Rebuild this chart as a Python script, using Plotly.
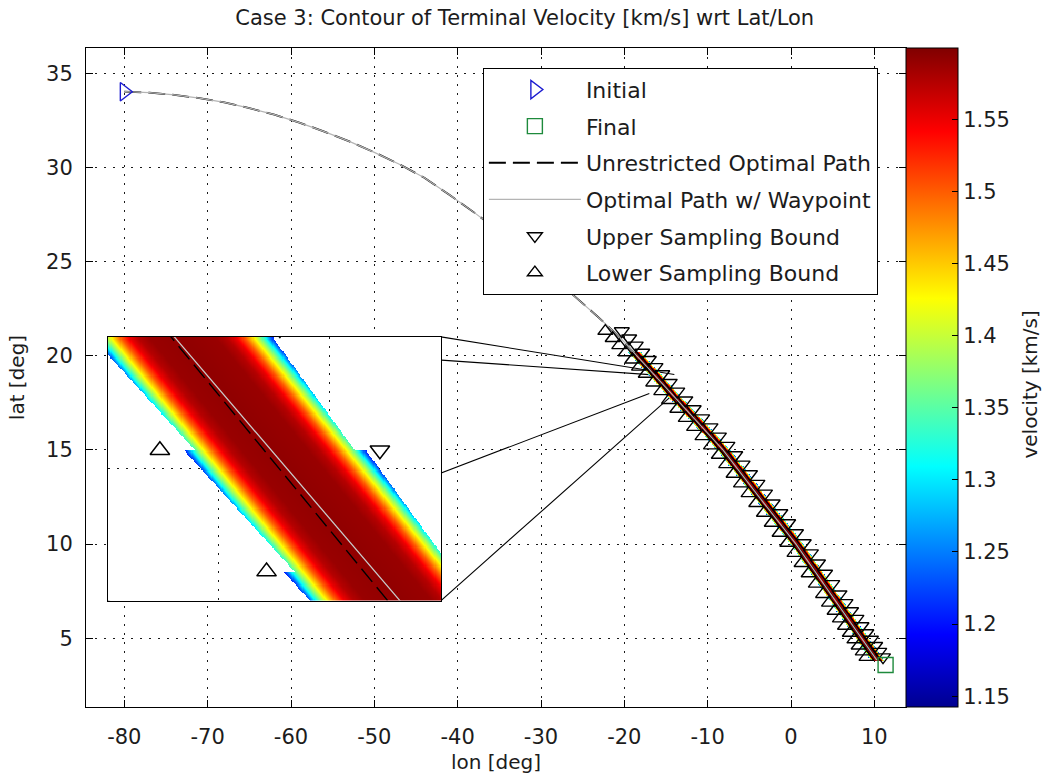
import numpy as np
import plotly.graph_objects as go

# ---------------- trajectories (lon, lat in deg) ----------------
unres_lon = [-80.0, -77.0, -74.0, -71.0, -68.0, -65.0, -62.0, -59.0, -56.0, -53.0,
             -50.0, -47.0, -44.0, -41.0, -38.0, -35.0, -32.0, -29.0, -26.0, -23.0,
             -20.6, -18.5, -16.43, -14.48, -11.3, -8.2, -4.0, 0.6, 5.0, 10.0, 10.3]
unres_lat = [34.02, 33.97, 33.85, 33.68, 33.45, 33.15, 32.80, 32.38, 31.90, 31.38,
             30.80, 30.17, 29.45, 28.55, 27.60, 26.60, 25.50, 24.35, 23.15, 22.00,
             21.00, 19.98, 19.00, 18.00, 16.50, 15.00, 12.60, 10.00, 7.20, 4.00, 3.84]

wp_lon = [-80.0, -77.0, -74.0, -71.0, -68.0, -65.0, -62.0, -59.0, -56.0, -53.0,
          -50.0, -47.0, -44.0, -41.0, -38.0, -35.0, -32.0, -29.0, -26.0, -23.0,
          -20.58, -18.46, -16.40, -14.37, -11.22, -8.17, -4.0, 0.6, 5.0, 10.0, 10.3]
wp_lat = [34.02, 33.97, 33.85, 33.68, 33.45, 33.15, 32.80, 32.38, 31.90, 31.38,
          30.80, 30.17, 29.45, 28.55, 27.60, 26.60, 25.50, 24.35, 23.15, 22.00,
          21.00, 19.98, 19.00, 18.00, 16.50, 15.00, 12.60, 10.00, 7.20, 4.00, 3.84]

initial_lon, initial_lat = [-80.0], [34.02]
final_lon, final_lat = [11.35], [3.58]

# ---------------- sampling rows and bounds ----------------
row_lat = [21.31, 20.93, 20.55, 20.17, 19.79, 19.41, 19.03, 18.57, 18.11, 17.64,
           17.17, 16.69, 16.21, 15.72, 15.23, 14.73, 14.23, 13.72, 13.21, 12.69,
           12.17, 11.65, 11.12, 10.59, 10.06, 9.52, 8.98, 8.44, 7.89, 7.34,
           6.88, 6.45, 6.04, 5.65, 5.28, 4.93, 4.60, 4.29, 4.00]
lower_lon = [-22.28, -21.40, -20.61, -19.83, -19.04, -18.24, -17.43, -16.53, -15.57, -14.64,
             -13.64, -12.63, -11.63, -10.62, -9.60, -8.66, -7.78, -6.89, -6.00, -5.09,
             -4.17, -3.25, -2.31, -1.37, -0.44, 0.42, 1.27, 2.12, 2.98, 3.85,
             4.56, 5.23, 5.87, 6.48, 7.06, 7.61, 8.12, 8.61, 9.06]
upper_lon = [-20.30, -19.42, -18.63, -17.85, -17.06, -16.26, -15.45, -14.55, -13.65, -12.68,
             -11.68, -10.66, -9.66, -8.65, -7.63, -6.69, -5.81, -4.92, -4.03, -3.12,
             -2.20, -1.28, -0.34, 0.60, 1.53, 2.39, 3.24, 4.09, 4.95, 5.82,
             6.54, 7.21, 7.85, 8.46, 9.04, 9.59, 10.10, 10.59, 11.04]

# latitude rows that bound the sampled velocity strips
band_rows = row_lat[3:] + [3.84]

# terminal velocity [km/s] vs cross-track distance [deg lon] from the strip axis
prof_dist = [0.00, 0.30, 0.40, 0.48, 0.56, 0.63, 0.69, 0.74, 0.79, 0.84, 0.90]
prof_vel = [1.592, 1.588, 1.575, 1.550, 1.500, 1.440, 1.380, 1.320, 1.240, 1.180, 1.150]

# strip edges relative to the unrestricted path: (strip top, strip bottom)
edge_left = (-0.72, -0.62)
edge_right = (0.92, 0.82)
axis_shift = 0.10

cbar_vals = [1.15, 1.20, 1.25, 1.30, 1.35, 1.40, 1.45, 1.50, 1.55]
cbar_text = ["1.15", "1.2", "1.25", "1.3", "1.35", "1.4", "1.45", "1.5", "1.55"]
x_ticks = [-80, -70, -60, -50, -40, -30, -20, -10, 0, 10]
y_ticks = [5, 10, 15, 20, 25, 30, 35]

# axes geometry
x_range = [-84.6, 13.8]
y_range = [1.35, 36.34]
inset_lon = [-82.0, -42.0]     # where the magnified view sits on the map
inset_lat = [7.0, 21.0]
zoom_lon = [-17.0, -14.0]      # magnified region
zoom_lat = [18.0, 19.0]

jet = [[0.0, "#000090"], [0.11, "#0000ff"], [0.365, "#00ffff"],
       [0.62, "#ffff00"], [0.873, "#ff0000"], [1.0, "#800000"]]


def velocity_field(lon_vals, lat_vals):
    LON, LAT = np.meshgrid(lon_vals, lat_vals)
    path_lat_up = np.array(unres_lat[::-1])
    path_lon_up = np.array(unres_lon[::-1])
    centre = np.interp(LAT, path_lat_up, path_lon_up)
    off = LON - centre
    rows = np.array(band_rows)
    i = np.searchsorted(-rows, -LAT, side="left")
    valid = (i >= 1) & (i <= len(rows) - 1)
    ic = np.clip(i, 1, len(rows) - 1)
    top, bot = rows[ic - 1], rows[ic]
    f = np.clip((top - LAT) / (top - bot), 0, 1)
    left = edge_left[0] + (edge_left[1] - edge_left[0]) * f
    right = edge_right[0] + (edge_right[1] - edge_right[0]) * f
    inside = valid & (off >= left) & (off <= right)
    v = np.interp(np.abs(off - axis_shift), prof_dist, prof_vel)
    return np.where(inside, v, np.nan).astype(np.float32)


FONT = "DejaVu Sans"
TXT = "#1c1c1c"

fig = go.Figure()

# ---- main map ----
lon_main = np.arange(-19.9, 11.35, 0.08)
lat_main = np.arange(3.80, 20.22, 0.05)
fig.add_trace(go.Heatmap(x=lon_main, y=lat_main, z=velocity_field(lon_main, lat_main),
                         coloraxis="coloraxis", zsmooth=False, hoverinfo="skip",
                         showlegend=False))

fig.add_trace(go.Scatter(x=unres_lon, y=unres_lat, mode="lines",
                         line=dict(color="black", width=1.8, dash="17px,7px"),
                         name="Unrestricted Optimal Path", legendrank=3, legendgroup="g3"))
fig.add_trace(go.Scatter(x=wp_lon, y=wp_lat, mode="lines",
                         line=dict(color="#b4b4b4", width=1.2),
                         name="Optimal Path w/ Waypoint", legendrank=4, legendgroup="g4"))
fig.add_trace(go.Scatter(x=upper_lon, y=row_lat, mode="markers",
                         marker=dict(symbol="triangle-down-open", size=13, color="black",
                                     line=dict(width=1.4)),
                         name="Upper Sampling Bound", legendrank=5, legendgroup="g5"))
fig.add_trace(go.Scatter(x=lower_lon, y=row_lat, mode="markers",
                         marker=dict(symbol="triangle-up-open", size=13, color="black",
                                     line=dict(width=1.4)),
                         name="Lower Sampling Bound", legendrank=6, legendgroup="g6"))
fig.add_trace(go.Scatter(x=initial_lon, y=initial_lat, mode="markers",
                         marker=dict(symbol="triangle-right-open", size=16, color="#1c1cd0",
                                     line=dict(width=1.4)),
                         name="Initial", legendrank=1, legendgroup="g1"))
fig.add_trace(go.Scatter(x=final_lon, y=final_lat, mode="markers",
                         marker=dict(symbol="square-open", size=15, color="#1e8a3c",
                                     line=dict(width=1.4)),
                         name="Final", legendrank=2, legendgroup="g2"))

# ---- magnified view ----
lon_in = np.arange(zoom_lon[0], zoom_lon[1] + 0.005, 0.01)
lat_in = np.arange(zoom_lat[0], zoom_lat[1] + 0.002, 0.004)
fig.add_trace(go.Heatmap(x=lon_in, y=lat_in, z=velocity_field(lon_in, lat_in),
                         coloraxis="coloraxis", zsmooth=False, hoverinfo="skip",
                         showlegend=False, xaxis="x2", yaxis="y2"))
fig.add_trace(go.Scatter(x=unres_lon, y=unres_lat, mode="lines", xaxis="x2", yaxis="y2",
                         line=dict(color="black", width=1.4, dash="17px,7px"),
                         showlegend=False))
fig.add_trace(go.Scatter(x=wp_lon, y=wp_lat, mode="lines", xaxis="x2", yaxis="y2",
                         line=dict(color="#c8c8c8", width=1.3), showlegend=False))
fig.add_trace(go.Scatter(x=upper_lon, y=row_lat, mode="markers", xaxis="x2", yaxis="y2",
                         marker=dict(symbol="triangle-down-open", size=17, color="black",
                                     line=dict(width=1.5)), showlegend=False))
fig.add_trace(go.Scatter(x=lower_lon, y=row_lat, mode="markers", xaxis="x2", yaxis="y2",
                         marker=dict(symbol="triangle-up-open", size=17, color="black",
                                     line=dict(width=1.5)), showlegend=False))

# white backing of the magnified view and the lines tying it to the region
shapes = [dict(type="rect", xref="x2", yref="y2", x0=zoom_lon[0], x1=zoom_lon[1],
               y0=zoom_lat[0], y1=zoom_lat[1], fillcolor="white",
               line=dict(width=0), layer="below")]
for (ix, iy), (zx, zy) in [((inset_lon[0], inset_lat[1]), (zoom_lon[0], zoom_lat[1])),
                           ((inset_lon[1], inset_lat[1]), (zoom_lon[1], zoom_lat[1])),
                           ((inset_lon[0], inset_lat[0]), (zoom_lon[0], zoom_lat[0])),
                           ((inset_lon[1], inset_lat[0]), (zoom_lon[1], zoom_lat[0]))]:
    shapes.append(dict(type="line", xref="x", yref="y", x0=ix, y0=iy, x1=zx, y1=zy,
                       line=dict(color="black", width=1.1), layer="below"))

xd = [(v - x_range[0]) / (x_range[1] - x_range[0]) for v in inset_lon]
yd = [(v - y_range[0]) / (y_range[1] - y_range[0]) for v in inset_lat]

grid = dict(showgrid=True, gridcolor="#1a1a1a", gridwidth=1, griddash="2px,7px",
            zeroline=False, showline=True, linecolor="black", linewidth=1)

fig.update_layout(
    width=1043, height=782, autosize=False,
    margin=dict(l=86, r=137, t=48, b=75),
    paper_bgcolor="white", plot_bgcolor="white",
    font=dict(family=FONT, size=21, color=TXT),
    title=dict(text="Case 3: Contour of Terminal Velocity [km/s] wrt Lat/Lon",
               x=0.535, xref="paper", xanchor="center", y=0.977, yanchor="middle",
               font=dict(family=FONT, size=21, color=TXT)),
    xaxis=dict(range=x_range, tickvals=x_ticks, ticktext=[str(v) for v in x_ticks],
               ticks="inside", ticklen=7, tickcolor="black", mirror="ticks",
               title=dict(text="lon [deg]", standoff=6, font=dict(size=20)),
               ticklabelstandoff=11, domain=[0, 1], **grid),
    yaxis=dict(range=y_range, tickvals=y_ticks, ticktext=[str(v) for v in y_ticks],
               ticks="inside", ticklen=7, tickcolor="black", mirror="ticks",
               title=dict(text="lat [deg]", standoff=16, font=dict(size=20)),
               ticklabelstandoff=8, domain=[0, 1], **grid),
    xaxis2=dict(domain=xd, anchor="y2", range=zoom_lon, tickvals=[-16, -15],
                showticklabels=False, ticks="", mirror=True, **grid),
    yaxis2=dict(domain=yd, anchor="x2", range=zoom_lat, tickvals=[18.5],
                showticklabels=False, ticks="", mirror=True, **grid),
    coloraxis=dict(colorscale=jet, cmin=1.1425, cmax=1.5995,
                   colorbar=dict(thickness=52, thicknessmode="pixels", len=1,
                                 lenmode="fraction", x=1.0, xanchor="left", xpad=0,
                                 y=0.5, yanchor="middle", ypad=0,
                                 outlinecolor="black", outlinewidth=1,
                                 ticks="inside", ticklen=6, tickcolor="black",
                                 tickvals=cbar_vals, ticktext=cbar_text,
                                 tickfont=dict(family=FONT, size=21, color=TXT))),
    annotations=[dict(text="velocity [km/s]", textangle=-90, xref="paper", yref="paper",
                      x=1.151, y=0.489, xanchor="center", yanchor="middle",
                      showarrow=False, font=dict(family=FONT, size=20, color=TXT))],
    legend=dict(x=0.484, y=0.970, xanchor="left", yanchor="top",
                bgcolor="white", bordercolor="black", borderwidth=1,
                font=dict(family=FONT, size=22, color=TXT),
                itemwidth=92, tracegroupgap=5, traceorder="grouped"),
    shapes=shapes,
)

fig.write_html("out.html")
